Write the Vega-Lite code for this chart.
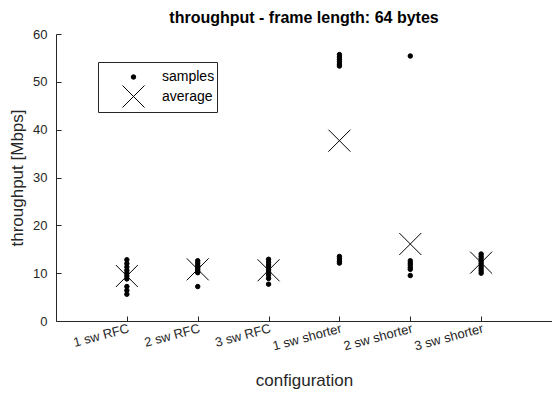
{
  "$schema": "https://vega.github.io/schema/vega-lite/v6.json",
  "width": 496,
  "height": 287,
  "autosize": "none",
  "padding": {"left": 56, "top": 34, "right": 0, "bottom": 75},
  "background": "white",
  "title": {"text": "throughput - frame length: 64 bytes", "fontSize": 16, "fontWeight": "bold", "font": "Liberation Sans", "color": "#000000", "offset": 2},
  "config": {
    "font": "Liberation Sans",
    "view": {"stroke": null},
    "axis": {"domainColor": "#262626", "tickColor": "#262626", "labelColor": "#262626", "titleColor": "#262626", "labelFontSize": 13, "titleFontSize": 17, "titleFontWeight": "normal", "grid": false, "tickSize": -5, "labelFont": "Liberation Sans", "titleFont": "Liberation Sans"},
    "legend": {"symbolFillColor": "black"}
  },
  "data": {"values": [
    {"config": "1 sw RFC", "series": "samples", "value": 12.8},
    {"config": "1 sw RFC", "series": "samples", "value": 12.0},
    {"config": "1 sw RFC", "series": "samples", "value": 11.3},
    {"config": "1 sw RFC", "series": "samples", "value": 10.6},
    {"config": "1 sw RFC", "series": "samples", "value": 10.0},
    {"config": "1 sw RFC", "series": "samples", "value": 9.4},
    {"config": "1 sw RFC", "series": "samples", "value": 8.8},
    {"config": "1 sw RFC", "series": "samples", "value": 7.2},
    {"config": "1 sw RFC", "series": "samples", "value": 6.4},
    {"config": "1 sw RFC", "series": "samples", "value": 5.6},
    {"config": "2 sw RFC", "series": "samples", "value": 12.6},
    {"config": "2 sw RFC", "series": "samples", "value": 12.1},
    {"config": "2 sw RFC", "series": "samples", "value": 11.6},
    {"config": "2 sw RFC", "series": "samples", "value": 11.2},
    {"config": "2 sw RFC", "series": "samples", "value": 10.8},
    {"config": "2 sw RFC", "series": "samples", "value": 10.4},
    {"config": "2 sw RFC", "series": "samples", "value": 10.1},
    {"config": "2 sw RFC", "series": "samples", "value": 7.2},
    {"config": "3 sw RFC", "series": "samples", "value": 12.9},
    {"config": "3 sw RFC", "series": "samples", "value": 12.3},
    {"config": "3 sw RFC", "series": "samples", "value": 11.7},
    {"config": "3 sw RFC", "series": "samples", "value": 11.2},
    {"config": "3 sw RFC", "series": "samples", "value": 10.7},
    {"config": "3 sw RFC", "series": "samples", "value": 10.2},
    {"config": "3 sw RFC", "series": "samples", "value": 9.6},
    {"config": "3 sw RFC", "series": "samples", "value": 8.9},
    {"config": "3 sw RFC", "series": "samples", "value": 7.7},
    {"config": "1 sw shorter", "series": "samples", "value": 55.7},
    {"config": "1 sw shorter", "series": "samples", "value": 55.2},
    {"config": "1 sw shorter", "series": "samples", "value": 54.7},
    {"config": "1 sw shorter", "series": "samples", "value": 54.2},
    {"config": "1 sw shorter", "series": "samples", "value": 53.7},
    {"config": "1 sw shorter", "series": "samples", "value": 53.3},
    {"config": "1 sw shorter", "series": "samples", "value": 13.5},
    {"config": "1 sw shorter", "series": "samples", "value": 13.0},
    {"config": "1 sw shorter", "series": "samples", "value": 12.5},
    {"config": "1 sw shorter", "series": "samples", "value": 12.1},
    {"config": "2 sw shorter", "series": "samples", "value": 55.4},
    {"config": "2 sw shorter", "series": "samples", "value": 12.6},
    {"config": "2 sw shorter", "series": "samples", "value": 12.1},
    {"config": "2 sw shorter", "series": "samples", "value": 11.7},
    {"config": "2 sw shorter", "series": "samples", "value": 11.2},
    {"config": "2 sw shorter", "series": "samples", "value": 10.8},
    {"config": "2 sw shorter", "series": "samples", "value": 9.5},
    {"config": "3 sw shorter", "series": "samples", "value": 14.0},
    {"config": "3 sw shorter", "series": "samples", "value": 13.5},
    {"config": "3 sw shorter", "series": "samples", "value": 13.0},
    {"config": "3 sw shorter", "series": "samples", "value": 12.5},
    {"config": "3 sw shorter", "series": "samples", "value": 12.0},
    {"config": "3 sw shorter", "series": "samples", "value": 11.5},
    {"config": "3 sw shorter", "series": "samples", "value": 11.0},
    {"config": "3 sw shorter", "series": "samples", "value": 10.5},
    {"config": "3 sw shorter", "series": "samples", "value": 10.0},
    {"config": "1 sw RFC", "series": "average", "value": 9.4},
    {"config": "2 sw RFC", "series": "average", "value": 10.8},
    {"config": "3 sw RFC", "series": "average", "value": 10.6},
    {"config": "1 sw shorter", "series": "average", "value": 37.7},
    {"config": "2 sw shorter", "series": "average", "value": 16.1},
    {"config": "3 sw shorter", "series": "average", "value": 12.2}
  ]},
  "mark": {"type": "point", "stroke": "black", "strokeWidth": 1, "opacity": 1},
  "encoding": {
    "x": {"field": "config", "type": "ordinal", "sort": null,
      "scale": {"type": "point", "padding": 1},
      "axis": {"title": "configuration", "labelAngle": -15, "labelAlign": "right", "labelBaseline": "top", "labelPadding": 6, "titlePadding": 20}},
    "y": {"field": "value", "type": "quantitative",
      "scale": {"domain": [0, 60], "nice": false},
      "axis": {"title": "throughput [Mbps]", "values": [0, 10, 20, 30, 40, 50, 60], "labelPadding": 14, "titlePadding": 6}},
    "shape": {"field": "series", "type": "nominal",
      "scale": {"domain": ["samples", "average"], "range": ["circle", "M-1,-1L1,1M-1,1L1,-1"]},
      "legend": {"title": " ", "titleFontSize": 4, "titlePadding": 2, "orient": "none", "legendX": 42, "legendY": 28, "fillColor": "white", "strokeColor": "#262626", "padding": 2, "labelFontSize": 14, "labelColor": "#000000", "symbolStrokeColor": "black", "symbolStrokeWidth": 1, "symbolOffset": 22, "labelOffset": 17, "rowPadding": -1}},
    "size": {"field": "series", "type": "nominal",
      "scale": {"domain": ["samples", "average"], "range": [20, 484]}},
    "fill": {"field": "series", "type": "nominal",
      "scale": {"domain": ["samples", "average"], "range": ["black", "transparent"]}}
  }
}
